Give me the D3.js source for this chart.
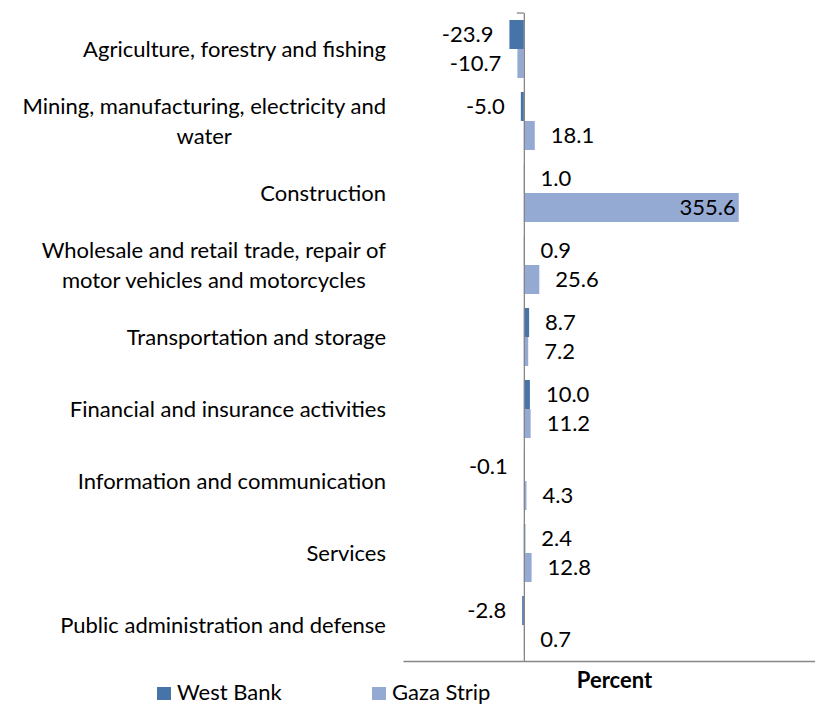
<!DOCTYPE html>
<html>
<head>
<meta charset="utf-8">
<script src="https://cdn.jsdelivr.net/npm/d3@7/dist/d3.min.js"></script>
<style>
  html, body { margin: 0; padding: 0; background: #fff; }
  svg { display: block; }
  text { font-family: Lato, "Open Sans", sans-serif; fill: #000; }
</style>
</head>
<body>
<svg id="chart" width="815" height="705"></svg>
<script>
// Sector labels (each inner array is one wrapped label, line by line)
const categories = [
  ["Agriculture, forestry and fishing"],
  ["Mining, manufacturing, electricity and", "water"],
  ["Construction"],
  ["Wholesale and retail trade, repair of", "motor vehicles and motorcycles"],
  ["Transportation and storage"],
  ["Financial and insurance activities"],
  ["Information and communication"],
  ["Services"],
  ["Public administration and defense"]
];
const seriesNames = ["West Bank", "Gaza Strip"];
const westBank = [-23.9, -5.0, 1.0, 0.9, 8.7, 10.0, -0.1, 2.4, -2.8];
const gazaStrip = [-10.7, 18.1, 355.6, 25.6, 7.2, 11.2, 4.3, 12.8, 0.7];
const xDomain = [-200, 500];
const axisTitle = "Percent";

const colors = { "West Bank": "#4673A8", "Gaza Strip": "#95AAD3" };
const fontSize = 22;

const svg = d3.select("#chart");

const rows = categories.map((lines, i) => ({
  key: i,
  lines,
  values: [
    { series: seriesNames[0], value: westBank[i] },
    { series: seriesNames[1], value: gazaStrip[i] }
  ]
}));

const x = d3.scaleLinear().domain(xDomain).range([403, 826]);
const y = d3.scaleBand().domain(rows.map(r => r.key)).range([13, 661]);
const ySub = d3.scaleBand().domain(seriesNames)
  .range([7, y.bandwidth() - 7]);

const plot = svg.append("g");

// bars
const groups = plot.selectAll("g.row").data(rows).join("g")
  .attr("class", "row")
  .attr("transform", d => `translate(0,${y(d.key)})`);

groups.selectAll("rect").data(d => d.values).join("rect")
  .attr("x", d => x(Math.min(0, d.value)))
  .attr("width", d => Math.abs(x(d.value) - x(0)))
  .attr("y", d => ySub(d.series))
  .attr("height", ySub.bandwidth())
  .attr("fill", d => colors[d.series]);

// value labels: outside the bar end, inside for the long construction bar
groups.selectAll("text.val").data(d => d.values).join("text")
  .attr("class", "val")
  .attr("font-size", fontSize)
  .attr("dy", "0.35em")
  .attr("y", d => ySub(d.series) + ySub.bandwidth() / 2)
  .each(function (d) {
    const t = d3.select(this);
    const end = x(d.value);
    if (d.value > 100) {
      t.attr("x", end - 3).attr("text-anchor", "end");
    } else if (d.value < 0) {
      t.attr("x", end - 16).attr("text-anchor", "end");
    } else {
      t.attr("x", end + 16).attr("text-anchor", "start");
    }
  })
  .text(d => d.value.toFixed(1));

// category axis at zero
const zeroX = x(0);
const axisColor = "#868686";
const yAxis = d3.axisLeft(y).tickSize(0).tickFormat(() => "");
const yAxisG = plot.append("g")
  .attr("transform", `translate(${zeroX},0)`)
  .call(yAxis);
yAxisG.select(".domain").attr("stroke", axisColor).attr("stroke-width", 1.3)
  .attr("d", `M0.5,13V661`);
yAxisG.append("line")
  .attr("x1", -7).attr("x2", 0).attr("y1", 13).attr("y2", 13)
  .attr("stroke", axisColor).attr("stroke-width", 1.3);

// value axis (no ticks or labels)
const xAxis = d3.axisBottom(x).tickValues([]).tickSizeOuter(0);
const xAxisG = plot.append("g").attr("transform", "translate(0,661)").call(xAxis);
xAxisG.select(".domain").attr("stroke", axisColor).attr("stroke-width", 1.3);

// category labels, right aligned against x = 386, wrapped lines centred
const labelRight = 386;
const lineGap = 30;
const labels = plot.append("g").selectAll("g").data(rows).join("g")
  .attr("transform", d => `translate(0,${y(d.key) + y.bandwidth() / 2})`);
labels.each(function (d) {
  const g = d3.select(this);
  const n = d.lines.length;
  const texts = d.lines.map((line, k) => g.append("text")
    .attr("font-size", fontSize)
    .attr("dy", "0.35em")
    .attr("y", (k - (n - 1) / 2) * lineGap)
    .text(line));
  const widths = texts.map(t => t.node().getComputedTextLength());
  const maxW = d3.max(widths);
  const cx = labelRight - maxW / 2;
  texts.forEach(t => t.attr("x", cx).attr("text-anchor", "middle"));
});

// axis title
svg.append("text")
  .attr("x", (403 + 826) / 2)
  .attr("y", 688)
  .attr("text-anchor", "middle")
  .attr("font-size", fontSize)
  .attr("font-weight", "bold")
  .text(axisTitle);

// legend
const legendX = [157, 372];
const legend = svg.append("g").selectAll("g").data(seriesNames).join("g")
  .attr("transform", (d, i) => `translate(${legendX[i]},687)`);
legend.append("rect")
  .attr("width", 14).attr("height", 13)
  .attr("fill", d => colors[d]);
legend.append("text")
  .attr("x", 20).attr("y", 13)
  .attr("font-size", fontSize)
  .text(d => d);
</script>
</body>
</html>
